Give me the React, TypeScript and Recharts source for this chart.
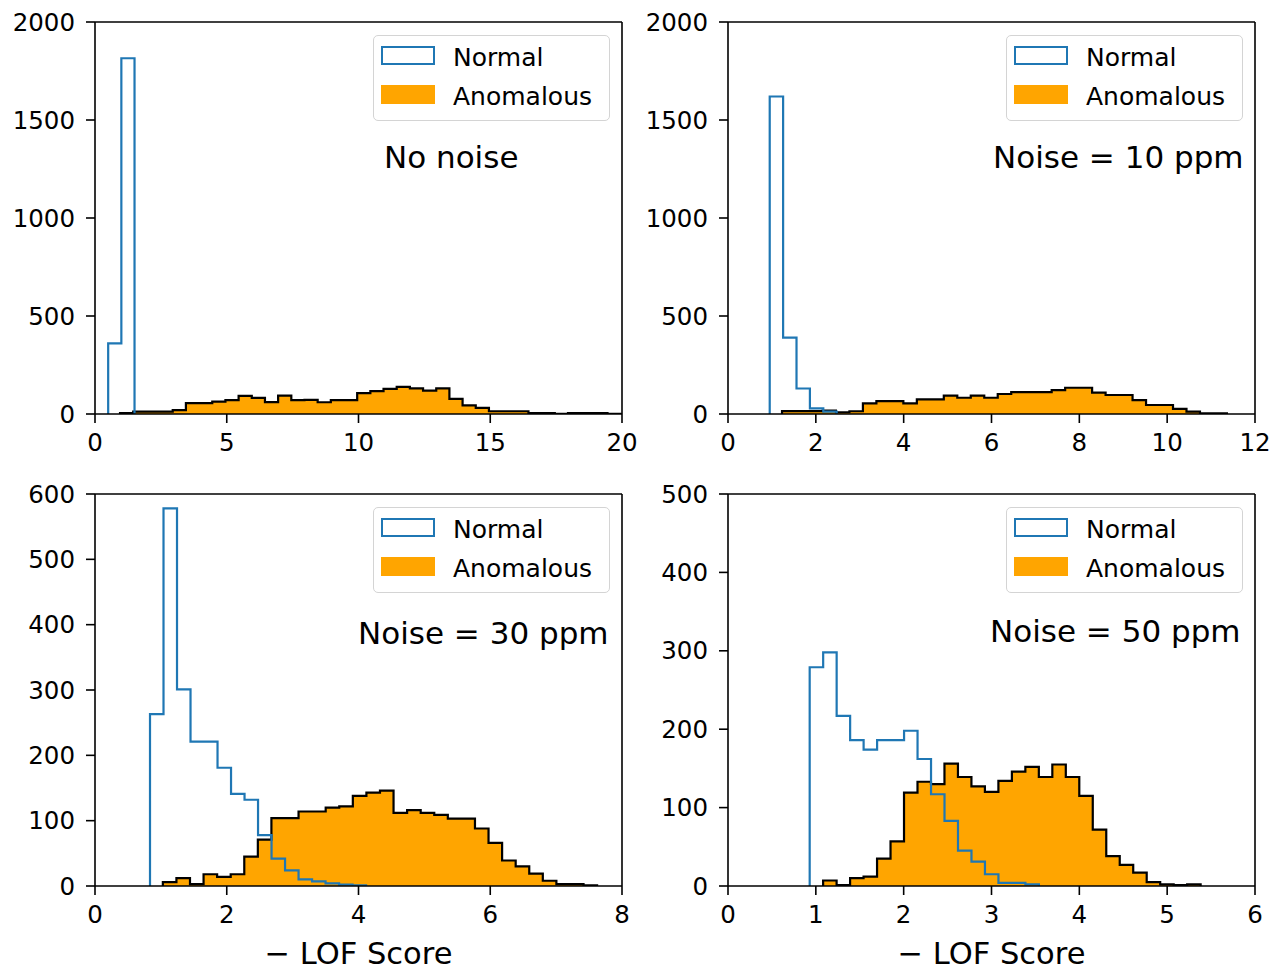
import React from "react";
import { Area, ComposedChart, Line, ReferenceLine, XAxis, YAxis } from "recharts";

const FONT = "'DejaVu Sans', sans-serif";
const BLUE = "#1f77b4";
const ORANGE = "#ffa500";

// histogram bins: first edge, bin width, counts
const noNoiseNormalStart = 0.5;
const noNoiseNormalWidth = 0.5;
const noNoiseNormal = [360, 1815];
const noNoiseAnomStart = 0.95;
const noNoiseAnomWidth = 0.5;
const noNoiseAnom = [
  5, 12, 12, 12, 20, 55, 55, 63, 71, 92, 82, 61, 94, 71, 72, 60, 71, 71, 107, 117, 128, 138, 131, 119, 131, 77, 44,
  31, 14, 14, 14, 5, 5, 1, 5, 5, 5, 1,
];

const noise10NormalStart = 0.95;
const noise10NormalWidth = 0.305;
const noise10Normal = [1620, 390, 130, 29, 12];
const noise10AnomStart = 1.23;
const noise10AnomWidth = 0.307;
const noise10Anom = [
  15, 15, 15, 17, 9, 14, 54, 66, 66, 54, 75, 75, 94, 83, 94, 83, 102, 112, 112, 112, 122, 134, 134, 109, 97, 97, 71,
  46, 46, 26, 12, 3, 3,
];

const noise30NormalStart = 0.835;
const noise30NormalWidth = 0.205;
const noise30Normal = [263, 578, 301, 221, 221, 181, 141, 132, 78, 42, 24, 10, 7, 4, 2, 1];
const noise30AnomStart = 1.03;
const noise30AnomWidth = 0.206;
const noise30Anom = [
  6, 12, 3, 18, 14, 18, 45, 71, 104, 104, 114, 114, 120, 122, 138, 143, 146, 112, 116, 112, 109, 103, 103, 88, 66, 39,
  30, 19, 8, 3, 3, 1,
];

const noise50NormalStart = 0.93;
const noise50NormalWidth = 0.1535;
const noise50Normal = [279, 298, 217, 186, 174, 186, 186, 198, 162, 117, 83, 45, 31, 15, 4, 4, 2];
const noise50AnomStart = 1.083;
const noise50AnomWidth = 0.1535;
const noise50Anom = [
  7, 1, 10, 12, 35, 57, 119, 133, 130, 156, 139, 127, 120, 134, 146, 152, 139, 155, 139, 115, 72, 38, 27, 17, 5, 2, 1,
  2,
];

const topLeftXTicks = [0, 5, 10, 15, 20];
const topRightXTicks = [0, 2, 4, 6, 8, 10, 12];
const bottomLeftXTicks = [0, 2, 4, 6, 8];
const bottomRightXTicks = [0, 1, 2, 3, 4, 5, 6];
const topYTicks = [0, 500, 1000, 1500, 2000];
const bottomLeftYTicks = [0, 100, 200, 300, 400, 500, 600];
const bottomRightYTicks = [0, 100, 200, 300, 400, 500];

type Pt = { x: number; normal?: number; anom?: number };

function steps(start: number, width: number, counts: number[], key: "normal" | "anom"): Pt[] {
  const pts: Pt[] = [{ x: start, [key]: 0 }];
  counts.forEach((c, i) => pts.push({ x: start + i * width, [key]: c }));
  pts.push({ x: start + counts.length * width, [key]: 0 });
  return pts;
}

function buildData(
  ns: number,
  nw: number,
  normal: number[],
  as: number,
  aw: number,
  anom: number[]
): Pt[] {
  return [...steps(as, aw, anom, "anom"), ...steps(ns, nw, normal, "normal")].sort((a, b) => a.x - b.x);
}

const tickStyle = { fill: "#000", fontSize: 24.5, fontFamily: FONT };
const lineStyle = { stroke: "#000", strokeWidth: 1.6 };

type PanelProps = {
  x0: number;
  y0: number;
  xMax: number;
  xTicks: number[];
  yMax: number;
  yTicks: number[];
  data: Pt[];
  note: string;
  noteLeft: number;
  noteY: number;
  xLabel?: boolean;
};

const PLOT_W = 527;
const PLOT_H = 392;

function Panel({ x0, y0, xMax, xTicks, yMax, yTicks, data, note, noteLeft, noteY, xLabel }: PanelProps) {
  const axisH = xLabel ? 85 : 56;
  const width = 95 + PLOT_W + 19;
  const height = 22 + PLOT_H + axisH;
  const legLeft = x0 + PLOT_W - 12 - 237;
  const legTop = y0 + 13;
  return (
    <>
      <div style={{ position: "absolute", left: x0 - 95, top: y0 - 22 }}>
        <ComposedChart width={width} height={height} data={data} margin={{ top: 22, right: 19, bottom: 0, left: 15 }}>
          <XAxis
            type="number"
            dataKey="x"
            domain={[0, xMax]}
            ticks={xTicks}
            interval={0}
            allowDataOverflow
            height={axisH}
            tickSize={9}
            tickMargin={11}
            axisLine={lineStyle}
            tickLine={lineStyle}
            tick={tickStyle}
          />
          <YAxis
            type="number"
            domain={[0, yMax]}
            ticks={yTicks}
            interval={0}
            allowDataOverflow
            width={80}
            tickSize={9}
            tickMargin={11}
            axisLine={lineStyle}
            tickLine={lineStyle}
            tick={tickStyle}
          />
          <Area
            dataKey="anom"
            type="stepAfter"
            connectNulls
            fill={ORANGE}
            fillOpacity={1}
            stroke="#000"
            strokeWidth={2.2}
            dot={false}
            activeDot={false}
            isAnimationActive={false}
          />
          <Line
            dataKey="normal"
            type="stepAfter"
            connectNulls
            stroke={BLUE}
            strokeWidth={2.2}
            dot={false}
            activeDot={false}
            isAnimationActive={false}
          />
          <ReferenceLine y={yMax} stroke="#000" strokeWidth={1.6} />
          <ReferenceLine x={xMax} stroke="#000" strokeWidth={1.6} />
        </ComposedChart>
      </div>
      <div
        style={{
          position: "absolute",
          left: legLeft,
          top: legTop,
          width: 237,
          height: 86,
          boxSizing: "border-box",
          border: "1.5px solid #d4d4d4",
          borderRadius: 5,
          background: "rgba(255,255,255,0.8)",
          fontFamily: FONT,
          fontSize: 25,
          lineHeight: 1,
          color: "#000",
        }}
      >
        <div
          style={{
            position: "absolute",
            left: 7,
            top: 10,
            width: 54,
            height: 18.5,
            boxSizing: "border-box",
            border: `2.2px solid ${BLUE}`,
          }}
        />
        <div style={{ position: "absolute", left: 79, top: 21 - 0.48 * 25 }}>Normal</div>
        <div style={{ position: "absolute", left: 7, top: 49, width: 54, height: 18.5, background: ORANGE }} />
        <div style={{ position: "absolute", left: 79, top: 60 - 0.48 * 25 }}>Anomalous</div>
      </div>
      <div
        style={{
          position: "absolute",
          left: noteLeft,
          top: noteY - 0.48 * 31,
          fontFamily: FONT,
          fontSize: 31,
          lineHeight: 1,
          whiteSpace: "nowrap",
          color: "#000",
        }}
      >
        {note}
      </div>
      {xLabel && (
        <div
          style={{
            position: "absolute",
            left: x0,
            width: PLOT_W,
            top: 954 - 0.48 * 30.5,
            textAlign: "center",
            fontFamily: FONT,
            fontSize: 30.5,
            lineHeight: 1,
            color: "#000",
          }}
        >
          − LOF Score
        </div>
      )}
    </>
  );
}

export default function App() {
  const d0 = buildData(noNoiseNormalStart, noNoiseNormalWidth, noNoiseNormal, noNoiseAnomStart, noNoiseAnomWidth, noNoiseAnom);
  const d1 = buildData(noise10NormalStart, noise10NormalWidth, noise10Normal, noise10AnomStart, noise10AnomWidth, noise10Anom);
  const d2 = buildData(noise30NormalStart, noise30NormalWidth, noise30Normal, noise30AnomStart, noise30AnomWidth, noise30Anom);
  const d3 = buildData(noise50NormalStart, noise50NormalWidth, noise50Normal, noise50AnomStart, noise50AnomWidth, noise50Anom);

  return (
    <div style={{ position: "absolute", left: 0, top: 0, width: 1273, height: 971, background: "#fff", overflow: "hidden" }}>
      <Panel x0={95} y0={22} xMax={20} xTicks={topLeftXTicks} yMax={2000} yTicks={topYTicks} data={d0} note="No noise" noteLeft={384} noteY={157} />
      <Panel x0={728} y0={22} xMax={12} xTicks={topRightXTicks} yMax={2000} yTicks={topYTicks} data={d1} note="Noise = 10 ppm" noteLeft={993} noteY={157} />
      <Panel x0={95} y0={494} xMax={8} xTicks={bottomLeftXTicks} yMax={600} yTicks={bottomLeftYTicks} data={d2} note="Noise = 30 ppm" noteLeft={358} noteY={633} xLabel />
      <Panel x0={728} y0={494} xMax={6} xTicks={bottomRightXTicks} yMax={500} yTicks={bottomRightYTicks} data={d3} note="Noise = 50 ppm" noteLeft={990} noteY={631} xLabel />
    </div>
  );
}
